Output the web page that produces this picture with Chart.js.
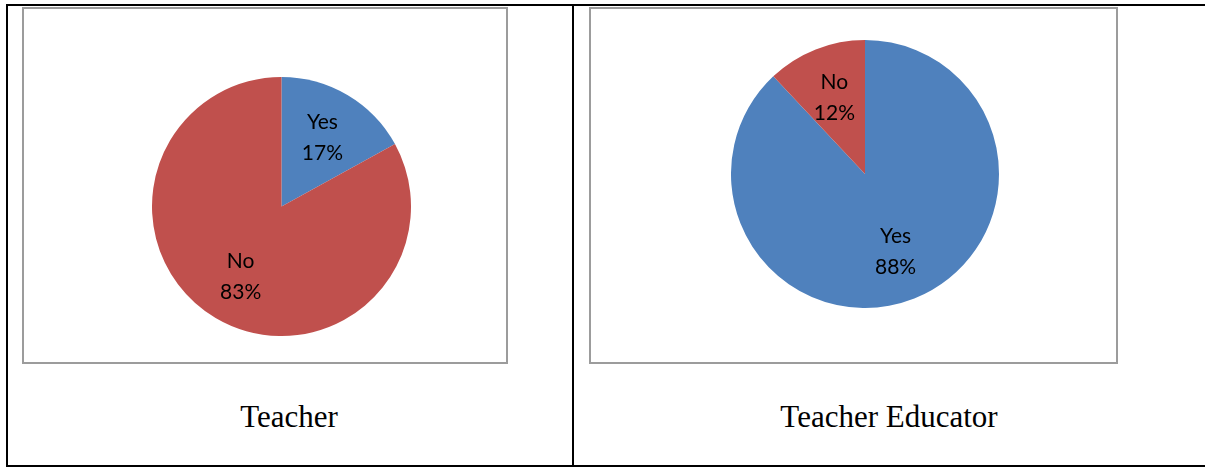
<!DOCTYPE html>
<html>
<head>
<meta charset="utf-8">
<title>Teacher / Teacher Educator</title>
<script src="https://cdn.jsdelivr.net/npm/chart.js@4"></script>
<style>
  html, body { margin: 0; padding: 0; background: #fff; }
  body { width: 1205px; height: 467px; position: relative; overflow: hidden; }
  .frame { position: absolute; left: 6px; top: 4px; width: 1215px; height: 463px;
           border: 2px solid #000; box-sizing: border-box; }
  .divider { position: absolute; left: 572px; top: 4px; width: 2px; height: 463px; background: #000; }
  .box { position: absolute; top: 7px; height: 357px; border: 2px solid #9c9c9c; box-sizing: border-box; }
  .pie { position: absolute; }
  .caption { position: absolute; top: 401px; line-height: 31px; text-align: center;
             font-family: "Liberation Serif", "Times New Roman", serif; font-size: 31px; color: #000; }
</style>
</head>
<body>
<div class="frame"></div>
<div class="divider"></div>

<div class="box" style="left:22px; width:486px;"></div>
<div class="box" style="left:589px; width:529px;"></div>

<div class="pie" style="left:152px; top:77px; width:259px; height:259px;"><canvas id="teacherPie"></canvas></div>
<div class="pie" style="left:731px; top:40px; width:268px; height:268px;"><canvas id="educatorPie"></canvas></div>

<div class="caption" style="left:0; width:578px;">Teacher</div>
<div class="caption" style="left:574px; width:630px;">Teacher Educator</div>

<script>
// Survey answers, percent of respondents
const categories = ['Yes', 'No'];
const teacherPct = [17, 83];
const educatorPct = [88, 12];
const sliceColors = ['#4F81BD', '#C0504D'];

// Writes "Yes / 17%" inside each slice, about 62% of the way out
const sliceLabels = {
    id: 'sliceLabels',
    afterDatasetsDraw(chart) {
        const ctx = chart.ctx;
        const meta = chart.getDatasetMeta(0);
        const values = chart.data.datasets[0].data;
        ctx.save();
        ctx.font = '21px Lato, "Open Sans", sans-serif';
        ctx.fillStyle = '#000';
        ctx.textAlign = 'center';
        ctx.textBaseline = 'alphabetic';
        meta.data.forEach((arc, i) => {
            const p = arc.getProps(['x', 'y', 'startAngle', 'endAngle', 'outerRadius'], true);
            const mid = (p.startAngle + p.endAngle) / 2;
            const r = p.outerRadius * 0.62;
            const x = p.x + Math.cos(mid) * r;
            const y = p.y + Math.sin(mid) * r;
            ctx.fillText(chart.data.labels[i], x, y - 8);
            ctx.fillText(values[i] + '%', x, y + 23);
        });
        ctx.restore();
    }
};

function makePie(id, values) {
    const ctx = document.getElementById(id).getContext('2d');
    return new Chart(ctx, {
        type: 'pie',
        data: {
            labels: categories,
            datasets: [{
                data: values,
                backgroundColor: sliceColors,
                borderWidth: 0
            }]
        },
        options: {
            responsive: true,
            maintainAspectRatio: false,
            animation: false,
            layout: { padding: 0 },
            plugins: {
                legend: { display: false },
                tooltip: { enabled: false }
            }
        },
        plugins: [sliceLabels]
    });
}

makePie('teacherPie', teacherPct);
makePie('educatorPie', educatorPct);
</script>
</body>
</html>
